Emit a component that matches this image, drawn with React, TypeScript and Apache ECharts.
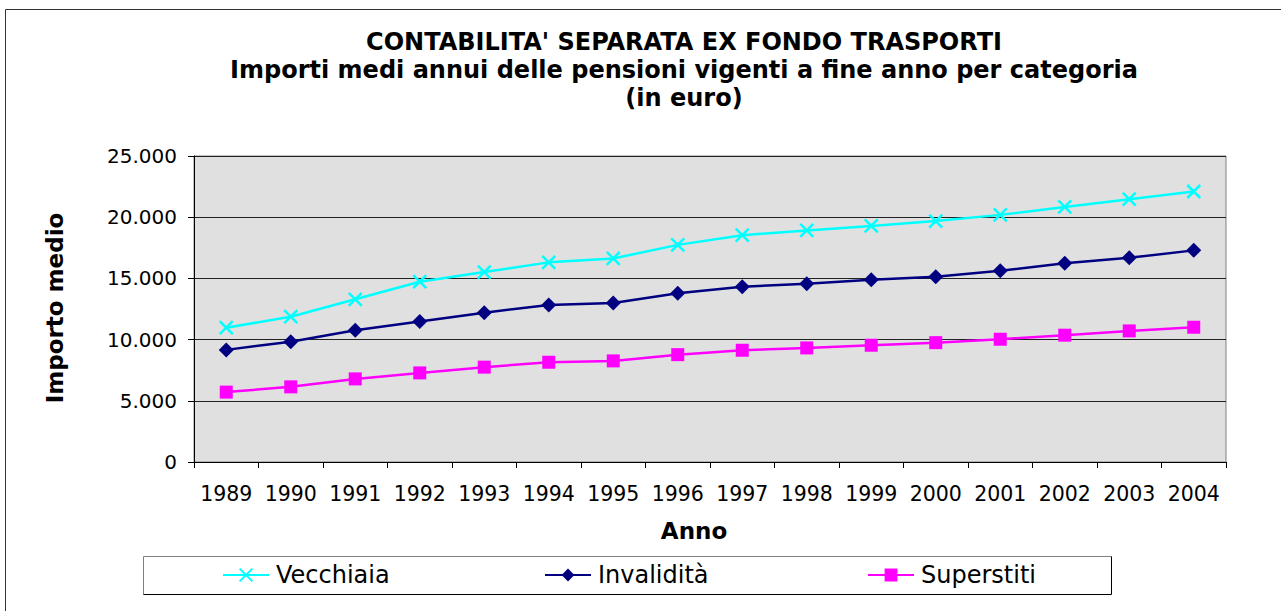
import React, { useEffect, useRef } from "react";
import * as echarts from "echarts";

const years = ["1989", "1990", "1991", "1992", "1993", "1994", "1995", "1996", "1997", "1998", "1999", "2000", "2001", "2002", "2003", "2004"];
const vecchiaia = [10975, 11870, 13290, 14730, 15520, 16310, 16630, 17740, 18530, 18920, 19290, 19680, 20190, 20840, 21470, 22100];
const invalidita = [9160, 9830, 10760, 11470, 12200, 12830, 12990, 13780, 14320, 14560, 14890, 15130, 15620, 16230, 16680, 17290];
const superstiti = [5710, 6140, 6790, 7280, 7750, 8150, 8260, 8770, 9130, 9320, 9540, 9750, 10030, 10360, 10710, 11010];
const seriesNames = ["Vecchiaia", "Invalidità", "Superstiti"];
const titleLines = [
  "CONTABILITA' SEPARATA EX FONDO TRASPORTI",
  "Importi medi annui delle pensioni vigenti a fine anno per categoria",
  "(in euro)",
];
const yAxisName = "Importo medio";
const xAxisName = "Anno";

const fmt = (v: number) => String(v).replace(/\B(?=(\d{3})+(?!\d))/g, ".");

const FONT = "'DejaVu Sans', Verdana, sans-serif";

export default function App() {
  const ref = useRef<HTMLDivElement>(null);
  useEffect(() => {
    if (!ref.current) return;
    const chart = echarts.init(ref.current, undefined, { renderer: "svg" });
    const cross = "path://M0,0L12,12M12,0L0,12";
    const option: any = {
      animation: false,
      backgroundColor: "#ffffff",
      grid: {
        left: 194,
        right: 55,
        top: 156,
        bottom: 149,
        show: true,
        backgroundColor: "#E0E0E0",
        borderColor: "#808080",
        borderWidth: 1,
        outerBoundsMode: "none",
      },
      xAxis: {
        type: "category",
        data: years,
        boundaryGap: true,
        axisLine: { show: true, lineStyle: { color: "#000", width: 1 } },
        axisTick: { show: true, length: 6, inside: false, lineStyle: { color: "#000" } },
        axisLabel: { fontFamily: FONT, fontSize: 20.5, color: "#000", margin: 21, interval: 0 },
        splitLine: { show: false },
      },
      yAxis: {
        type: "value",
        min: 0,
        max: 25000,
        interval: 5000,
        axisLine: { show: true, lineStyle: { color: "#000", width: 1 } },
        axisTick: { show: true, length: 6, lineStyle: { color: "#000" } },
        axisLabel: { fontFamily: FONT, fontSize: 20, color: "#000", margin: 17, formatter: (v: number) => fmt(v) },
        splitLine: { show: true, lineStyle: { color: "#222", width: 1 } },
      },
      legend: [0, 1, 2].map((i) => ({
        data: [seriesNames[i]],
        left: [222, 544, 867][i],
        top: 563,
        padding: 0,
        itemWidth: 46,
        itemHeight: 16,
        itemGap: 0,
        textStyle: { fontFamily: FONT, fontSize: 24, color: "#000", padding: [0, 0, 0, 2] },
        selectedMode: false,
      })),
      series: [
        {
          name: seriesNames[0],
          type: "line",
          data: vecchiaia,
          symbol: cross,
          symbolSize: 13,
          lineStyle: { color: "#00FFFF", width: 2.5 },
          itemStyle: { color: "#00FFFF", borderColor: "#00FFFF", borderWidth: 2.5 },
          emphasis: { disabled: true },
          z: 4,
        },
        {
          name: seriesNames[1],
          type: "line",
          data: invalidita,
          symbol: "diamond",
          symbolSize: 15,
          lineStyle: { color: "#000080", width: 2.5 },
          itemStyle: { color: "#000080" },
          emphasis: { disabled: true },
          z: 3,
        },
        {
          name: seriesNames[2],
          type: "line",
          data: superstiti,
          symbol: "rect",
          symbolSize: 13,
          lineStyle: { color: "#FF00FF", width: 2.5 },
          itemStyle: { color: "#FF00FF" },
          emphasis: { disabled: true },
          z: 2,
        },
      ],
      graphic: [
        {
          type: "rect",
          silent: true,
          shape: { x: 5.5, y: 9.5, width: 1400, height: 700 },
          style: { fill: "none", stroke: "#333", lineWidth: 1 },
          z: -1,
        },
        {
          type: "polyline",
          silent: true,
          shape: { points: [[143.5, 594.5], [143.5, 556.5], [1111.5, 556.5]] },
          style: { fill: "none", stroke: "#808080", lineWidth: 1 },
        },
        {
          type: "polyline",
          silent: true,
          shape: { points: [[143.5, 594.5], [1111.5, 594.5], [1111.5, 556.5]] },
          style: { fill: "none", stroke: "#000", lineWidth: 1 },
        },
        ...titleLines.map((t, i) => ({
          type: "text",
          silent: true,
          x: 684,
          y: [42, 70, 98][i],
          style: {
            text: t,
            fontFamily: FONT,
            fontWeight: "bold",
            fontSize: 24,
            fill: "#000",
            textAlign: "center",
            textVerticalAlign: "middle",
          },
        })),
        {
          type: "text",
          silent: true,
          x: 55,
          y: 308,
          rotation: Math.PI / 2,
          style: {
            text: yAxisName,
            fontFamily: FONT,
            fontWeight: "bold",
            fontSize: 23,
            fill: "#000",
            textAlign: "center",
            textVerticalAlign: "middle",
          },
        },
        {
          type: "text",
          silent: true,
          x: 694,
          y: 531,
          style: {
            text: xAxisName,
            fontFamily: FONT,
            fontWeight: "bold",
            fontSize: 23,
            fill: "#000",
            textAlign: "center",
            textVerticalAlign: "middle",
          },
        },
      ],
    };
    chart.setOption(option);
    return () => chart.dispose();
  }, []);
  return <div ref={ref} style={{ position: "fixed", left: 0, top: 0, width: 1281, height: 611 }} />;
}
